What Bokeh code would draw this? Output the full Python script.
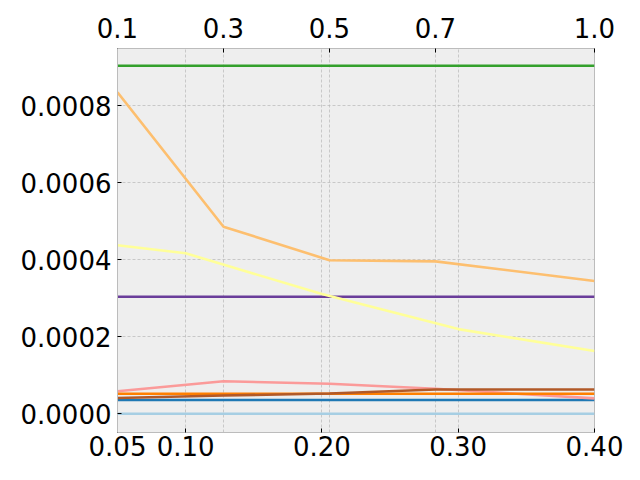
from bokeh.plotting import figure
from bokeh.models import Range1d, LinearAxis, FixedTicker, PrintfTickFormatter, Grid
from bokeh.embed import file_html
from bokeh.resources import INLINE

# ---- data ----
x_bottom = [0.05, 0.10, 0.20, 0.30, 0.40]
x_top = [0.1, 0.3, 0.5, 0.7, 1.0]

bottom_ticks = [0.05, 0.10, 0.20, 0.30, 0.40]
top_ticks = [0.1, 0.3, 0.5, 0.7, 1.0]
y_ticks = [0.0, 0.0002, 0.0004, 0.0006, 0.0008]

light_blue = [0.0, 0.0, 0.0, 0.0, 0.0]
dark_blue = [0.000036, 0.000036, 0.000036, 0.000036, 0.000036]
green = [0.000904, 0.000904, 0.000904, 0.000904, 0.000904]
pink = [0.0000587, 0.0000847, 0.0000779, 0.0000649, 0.000040]
light_orange = [0.000835, 0.000486, 0.000399, 0.000396, 0.000345]
orange = [0.000052, 0.000052, 0.000052, 0.000052, 0.000052]
purple = [0.000304, 0.000304, 0.000304, 0.000304, 0.000304]
yellow = [0.000438, 0.000417, 0.000311, 0.000220, 0.000163]
brown = [0.000041, 0.0000475, 0.0000527, 0.0000631, 0.0000631]

# (values, color, axis)
series = [
    (light_blue, "#a6cee3", "bottom"),
    (dark_blue, "#1f78b4", "bottom"),
    (green, "#33a02c", "bottom"),
    (pink, "#fb9a99", "top"),
    (light_orange, "#fdbf6f", "top"),
    (orange, "#ff7f00", "bottom"),
    (purple, "#6a3d9a", "bottom"),
    (yellow, "#ffff99", "bottom"),
    (brown, "#b15928", "top"),
]

FONT = "DejaVu Sans"
FS = "26px"

p = figure(
    output_backend="svg", toolbar_location=None,
    frame_width=477, frame_height=384,
    min_border_left=117, min_border_right=46, min_border_top=48, min_border_bottom=48,
    x_range=Range1d(0.05, 0.40), y_range=Range1d(-0.0000486, 0.000949),
    x_axis_location=None, y_axis_location=None,
)
p.xgrid.grid_line_color = None
p.ygrid.grid_line_color = None
p.extra_x_ranges = {"top": Range1d(0.1, 1.0)}
p.background_fill_color = "#eeeeee"
p.border_fill_color = "white"
p.outline_line_color = "#bcbcbc"
p.outline_line_width = 1


def style_axis(ax):
    ax.major_label_text_font = FONT
    ax.major_label_text_font_size = FS
    ax.major_label_text_color = "black"
    ax.axis_line_color = "#bcbcbc"
    ax.major_tick_in = 4
    ax.major_tick_out = 0
    ax.major_tick_line_color = "black"
    ax.minor_tick_line_color = None


bottom_axis = LinearAxis(ticker=FixedTicker(ticks=bottom_ticks),
                         formatter=PrintfTickFormatter(format="%.2f"))
style_axis(bottom_axis)
bottom_axis.major_label_standoff = 3
p.add_layout(bottom_axis, "below")

top_axis = LinearAxis(x_range_name="top", ticker=FixedTicker(ticks=top_ticks),
                      formatter=PrintfTickFormatter(format="%.1f"))
style_axis(top_axis)
top_axis.major_label_standoff = 11
p.add_layout(top_axis, "above")

left_axis = LinearAxis(ticker=FixedTicker(ticks=y_ticks),
                       formatter=PrintfTickFormatter(format="%.4f"))
style_axis(left_axis)
left_axis.major_label_standoff = 6
p.add_layout(left_axis, "left")

grid_style = dict(grid_line_color="#b8b8b8", grid_line_width=0.7, grid_line_dash="3 2")
p.add_layout(Grid(dimension=0, ticker=FixedTicker(ticks=bottom_ticks), **grid_style))
p.add_layout(Grid(dimension=0, ticker=FixedTicker(ticks=top_ticks), x_range_name="top", **grid_style))
p.add_layout(Grid(dimension=1, ticker=FixedTicker(ticks=y_ticks), **grid_style))

for vals, color, which in series:
    if which == "top":
        p.line(x_top, vals, line_color=color, line_width=2.6, x_range_name="top")
    else:
        p.line(x_bottom, vals, line_color=color, line_width=2.6)

open("out.html", "w").write(file_html(p, INLINE))
